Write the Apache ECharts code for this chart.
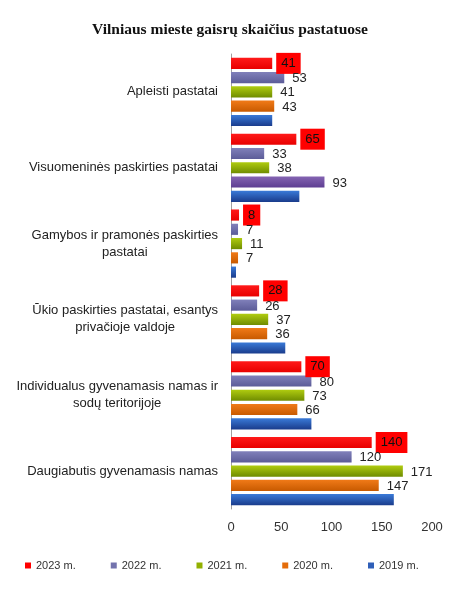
<!DOCTYPE html>
<html><head><meta charset="utf-8">
<script src="https://cdn.jsdelivr.net/npm/echarts@6/dist/echarts.min.js"></script>
<style>html,body{margin:0;padding:0;background:#fff}#c{width:474px;height:593px}</style>
</head><body><div id="c"></div>
<script>
const title = 'Vilniaus mieste gaisrų skaičius pastatuose';
const categories = [
  'Apleisti pastatai',
  'Visuomeninės paskirties pastatai',
  'Gamybos ir pramonės paskirties\npastatai',
  'Ūkio paskirties pastatai, esantys\nprivačioje valdoje',
  'Individualus gyvenamasis namas ir\nsodų teritorijoje',
  'Daugiabutis gyvenamasis namas'
];
const seriesNames = ['2023 m.', '2022 m.', '2021 m.', '2020 m.', '2019 m.'];
const v2023 = [41, 65, 8, 28, 70, 140];
const v2022 = [53, 33, 7, 26, 80, 120];
const v2021 = [41, 38, 11, 37, 73, 171];
const v2020 = [43, 93, 7, 36, 66, 147];
const v2019 = [41, 68, 5, 54, 80, 162];
const xTicks = [0, 50, 100, 150, 200];

const G = echarts.graphic.LinearGradient;
const grad = (a, b) => new G(0, 0, 0, 1, [{offset: 0, color: a}, {offset: 1, color: b}]);
const colors = [
  grad('#ff1a1a', '#e80000'),
  grad('#8080ba', '#5c5c98'),
  grad('#b0cc10', '#6f8c00'),
  grad('#f07a18', '#c85a00'),
  grad('#3a7ad8', '#1a3c8c')
];
const legendColors = ['#ff0000', '#7373ad', '#92b000', '#e46c0a', '#2f5fb8'];
const odd = grad('#8464b2', '#5e3e92');

const font = 'Liberation Sans';
const allVals = [v2023, v2022, v2021, v2020, v2019];

const series = allVals.map((vals, i) => ({
  name: seriesNames[i],
  type: 'bar',
  barGap: '28%',
  barCategoryGap: '10%',
  itemStyle: {color: colors[i]},
  data: vals.map((v, j) => (i === 3 && j === 1) ? {value: v, itemStyle: {color: odd}} : v),
  label: i === 4 ? {show: false} : (i === 0 ? {
    show: true, position: 'right', distance: 4,
    backgroundColor: '#ff0000', padding: [4, 5, 4, 5],
    color: '#111', fontSize: 13, fontFamily: font
  } : {
    show: true, position: 'right', distance: 8, offset: [0, 1],
    color: '#222', fontSize: 13, fontFamily: font
  })
}));

const chart = echarts.init(document.getElementById('c'), null, {renderer: 'canvas'});
chart.setOption({
  animation: false,
  title: {
    text: title, left: 225, top: 17, textAlign: 'center',
    textStyle: {fontFamily: 'Liberation Serif', fontWeight: 'bold', fontSize: 15.5, color: '#111'}
  },
  legend: {
    data: seriesNames.map((n, i) => ({name: n, itemStyle: {color: legendColors[i]}})),
    left: 20, top: 555, itemWidth: 6, itemHeight: 6, itemGap: 35, icon: 'rect',
    textStyle: {fontFamily: font, fontSize: 11, color: '#333'}
  },
  grid: {left: 231, right: 42, top: 54, bottom: 84},
  xAxis: {
    type: 'value', min: 0, max: 200, interval: 50,
    splitLine: {show: false}, axisLine: {show: false}, axisTick: {show: false},
    axisLabel: {fontFamily: font, fontSize: 13, color: '#333', margin: 12,
      formatter: v => xTicks.includes(v) ? String(v) : ''}
  },
  yAxis: {
    type: 'category', inverse: true, data: categories,
    axisLine: {show: true, lineStyle: {color: '#a0a0a0'}}, axisTick: {show: false},
    axisLabel: {
      margin: 13, color: '#222', fontFamily: font, fontSize: 13, lineHeight: 17,
      formatter: v => v.split('\n').map(s => '{c|' + s + '}').join('\n'),
      rich: {c: {align: 'center', fontFamily: font, fontSize: 13, color: '#222', lineHeight: 17}}
    }
  },
  series
});
</script></body></html>
